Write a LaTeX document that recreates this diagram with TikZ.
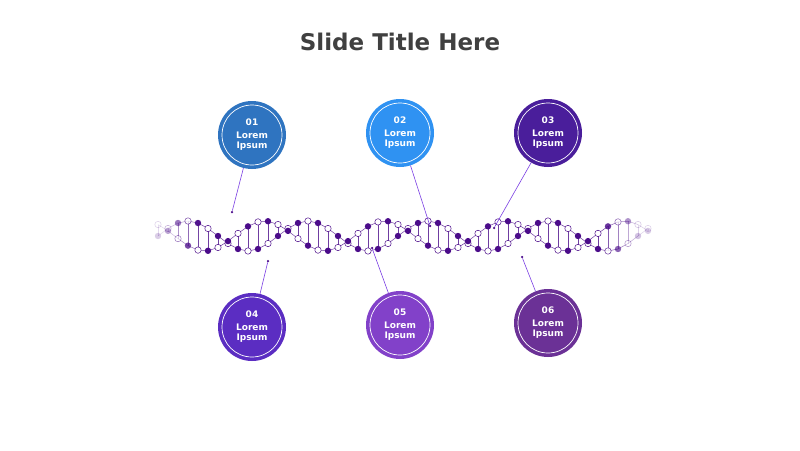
\documentclass[tikz,border=0pt]{standalone}
\usepackage{fontspec}
\setmainfont{DejaVu Sans}
\usetikzlibrary{positioning}
\definecolor{cA}{HTML}{2F74C0}
\definecolor{cB}{HTML}{2F92F2}
\definecolor{cC}{HTML}{4A1E9B}
\definecolor{cD}{HTML}{5B2DC2}
\definecolor{cE}{HTML}{8241C9}
\definecolor{cF}{HTML}{6B3196}
\definecolor{dna}{HTML}{4B0C8A}
\definecolor{pin}{HTML}{7B3FE4}

\begin{document}
\begin{tikzpicture}[x=1pt,y=-1pt,
    bubble/.style={circle, minimum size=68pt, inner sep=0pt, text=white, align=center,
      font=\bfseries\fontsize{9}{10}\selectfont, path picture={
        \draw[white, line width=0.7pt] (path picture bounding box.center) circle (30pt);}},
    pinline/.style={draw=pin, line width=0.6pt},
    pinend/.style={circle, fill=dna, inner sep=0pt, minimum size=2.5pt}
  ]
    \useasboundingbox[fill=white] (0,0) rectangle (800,450);
    % Title
    \node[font=\bfseries\fontsize{23}{26}\selectfont, text=black!75] (title) at (400,42) {Slide Title Here};

    % Helix
    \foreach \x in {158,168,...,648} {
      \pgfmathsetmacro{\ya}{236-15*sin(3*(\x-158))}
      \pgfmathsetmacro{\yb}{236-15*sin(3*(\x-158)+130)}
      \pgfmathsetmacro{\xn}{\x+10}
      \pgfmathsetmacro{\yan}{236-15*sin(3*(\xn-158))}
      \pgfmathsetmacro{\ybn}{236-15*sin(3*(\xn-158)+130)}
      \pgfmathsetmacro{\op}{min(1,max(0.2,min((\x-150)/50,(650-\x)/50)))}
      \begin{scope}[opacity=\op]
        \draw[dna!80, line width=0.5pt] (\x,\ya) -- (\x,\yb);
        \ifnum\x<648
          \draw[dna!80, line width=0.5pt] (\x,\ya) -- (\xn,\yan);
          \draw[dna!80, line width=0.5pt] (\x,\yb) -- (\xn,\ybn);
        \fi
        \pgfmathparse{int(mod((\x-158)/10,2))}
        \ifnum\pgfmathresult=0
          \fill[dna] (\x,\ya) circle (3.2pt);
          \draw[dna, fill=white, line width=0.5pt] (\x,\yb) circle (3.2pt);
        \else
          \draw[dna, fill=white, line width=0.5pt] (\x,\ya) circle (3.2pt);
          \fill[dna] (\x,\yb) circle (3.2pt);
        \fi
      \end{scope}
    }

    % Bubbles
    \node[bubble, fill=cA] (b1) at (252,135) {01\\[3pt]Lorem\\Ipsum};
    \node[bubble, fill=cB] (b2) at (400,133) {02\\[3pt]Lorem\\Ipsum};
    \node[bubble, fill=cC] (b3) at (548,133) {03\\[3pt]Lorem\\Ipsum};
    \node[bubble, fill=cD] (b4) at (252,327) {04\\[3pt]Lorem\\Ipsum};
    \node[bubble, fill=cE] (b5) at (400,325) {05\\[3pt]Lorem\\Ipsum};
    \node[bubble, fill=cF] (b6) at (548,323) {06\\[3pt]Lorem\\Ipsum};

    % Pointers
    \node[pinend] (p1) at (232,212) {};
    \node[pinend] (p2) at (430,226) {};
    \node[pinend] (p3) at (494,228) {};
    \node[pinend] (p4) at (268,261) {};
    \node[pinend] (p5) at (372,248) {};
    \node[pinend] (p6) at (522,257) {};
    \draw[pinline] (b1) -- (p1);
    \draw[pinline] (b2) -- (p2);
    \draw[pinline] (b3) -- (p3);
    \draw[pinline] (b4) -- (p4);
    \draw[pinline] (b5) -- (p5);
    \draw[pinline] (b6) -- (p6);
  \end{tikzpicture}
\end{document}
